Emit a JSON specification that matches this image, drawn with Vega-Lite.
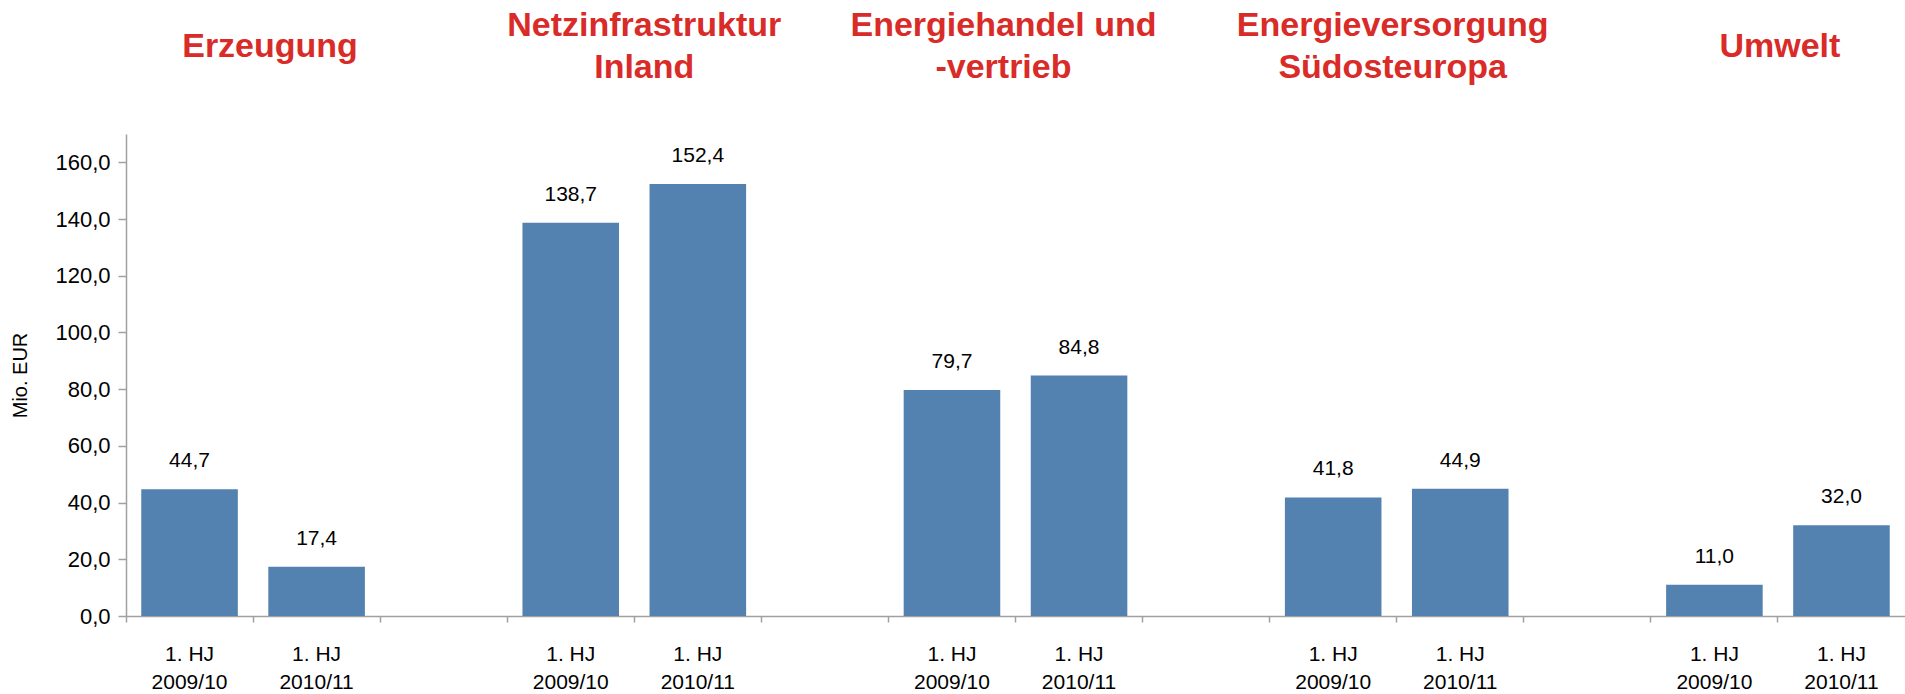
{
  "$schema": "https://vega.github.io/schema/vega-lite/v6.json",
  "width": 1905,
  "height": 694,
  "autosize": {"type": "fit", "contains": "padding"},
  "padding": {"left": 10, "top": 8, "right": 0, "bottom": 2},
  "config": {
    "view": {"stroke": null},
    "font": "Liberation Sans"
  },
  "data": {
    "values": [
      {"slot": "E1", "group": "Erzeugung", "period": "1. HJ 2009/10", "value": 44.7},
      {"slot": "E2", "group": "Erzeugung", "period": "1. HJ 2010/11", "value": 17.4},
      {"slot": "N1", "group": "Netzinfrastruktur Inland", "period": "1. HJ 2009/10", "value": 138.7},
      {"slot": "N2", "group": "Netzinfrastruktur Inland", "period": "1. HJ 2010/11", "value": 152.4},
      {"slot": "H1", "group": "Energiehandel und -vertrieb", "period": "1. HJ 2009/10", "value": 79.7},
      {"slot": "H2", "group": "Energiehandel und -vertrieb", "period": "1. HJ 2010/11", "value": 84.8},
      {"slot": "S1", "group": "Energieversorgung Südosteuropa", "period": "1. HJ 2009/10", "value": 41.8},
      {"slot": "S2", "group": "Energieversorgung Südosteuropa", "period": "1. HJ 2010/11", "value": 44.9},
      {"slot": "U1", "group": "Umwelt", "period": "1. HJ 2009/10", "value": 11.0},
      {"slot": "U2", "group": "Umwelt", "period": "1. HJ 2010/11", "value": 32.0}
    ]
  },
  "encoding": {
    "y": {
      "field": "value",
      "type": "quantitative",
      "scale": {"domain": [0, 170], "nice": false},
      "axis": {
        "values": [0, 20, 40, 60, 80, 100, 120, 140, 160],
        "labelExpr": "replace(format(datum.value,'.1f'),'.',',')",
        "grid": false,
        "title": "Mio. EUR",
        "titleFontSize": 20,
        "titleFontWeight": "normal",
        "titleColor": "#000000",
        "titlePadding": 22,
        "minExtent": 74,
        "maxExtent": 74,
        "labelFontSize": 22,
        "labelColor": "#000000",
        "labelPadding": 8,
        "tickSize": 8,
        "tickColor": "#a0a0a0",
        "tickWidth": 1.5,
        "domainColor": "#a0a0a0",
        "domainWidth": 1.5
      }
    }
  },
  "layer": [
    {
      "mark": {"type": "bar", "color": "#5381b0", "width": {"band": 0.76}},
      "encoding": {
        "x": {
          "field": "slot",
          "type": "nominal",
          "scale": {"domain": ["E1", "E2", "g1", "N1", "N2", "g2", "H1", "H2", "g3", "S1", "S2", "g4", "U1", "U2"], "paddingInner": 0, "paddingOuter": 0},
          "axis": {
            "orient": "bottom",
            "title": null,
            "bandPosition": 0,
            "labelExpr": "indexof(datum.value,'g')==0 ? '' : ['1. HJ', substring(datum.value,1,2)=='1' ? '2009/10' : '2010/11']",
            "labelAngle": 0,
            "labelFontSize": 21,
            "labelColor": "#000000",
            "labelLineHeight": 28,
            "labelBaseline": "top",
            "labelPadding": 21,
            "labelFlush": false,
            "labelOverlap": false,
            "tickSize": 6,
            "tickColor": "#a0a0a0",
            "tickWidth": 1.5,
            "domainColor": "#a0a0a0",
            "domainWidth": 1.5
          }
        }
      }
    },
    {
      "mark": {"type": "text", "baseline": "middle", "dy": -28, "fontSize": 21, "color": "#000000", "text": {"expr": "replace(format(datum.value,'.1f'),'.',',')"}},
      "encoding": {
        "x": {
          "field": "slot",
          "type": "nominal",
          "axis": {
            "orient": "top",
            "title": null,
            "values": ["E1", "N1", "H1", "S1", "U1"],
            "domain": false,
            "ticks": false,
            "labelExpr": "datum.value=='E1' ? 'Erzeugung' : datum.value=='N1' ? ['Netzinfrastruktur','Inland'] : datum.value=='H1' ? ['Energiehandel und','-vertrieb'] : datum.value=='S1' ? ['Energieversorgung','Südosteuropa'] : 'Umwelt'",
            "labelAngle": 0,
            "labelFontSize": 34,
            "labelFontWeight": "bold",
            "labelColor": "#d92b27",
            "labelLineHeight": 42,
            "labelBaseline": "middle",
            "labelPadding": {
              "condition": {"test": "datum.value=='E1' || datum.value=='U1'", "value": 88},
              "value": 109
            },
            "labelLimit": 0,
            "labelOverlap": false,
            "labelFlush": false,
            "labelBound": false,
            "labelOffset": {
              "condition": [
                {"test": "datum.value=='E1'", "value": 80.5},
                {"test": "datum.value=='N1'", "value": 73.5},
                {"test": "datum.value=='H1'", "value": 51.5},
                {"test": "datum.value=='S1'", "value": 59.5}
              ],
              "value": 65.5
            }
          }
        }
      }
    }
  ],
  "resolve": {"axis": {"x": "independent"}}
}
